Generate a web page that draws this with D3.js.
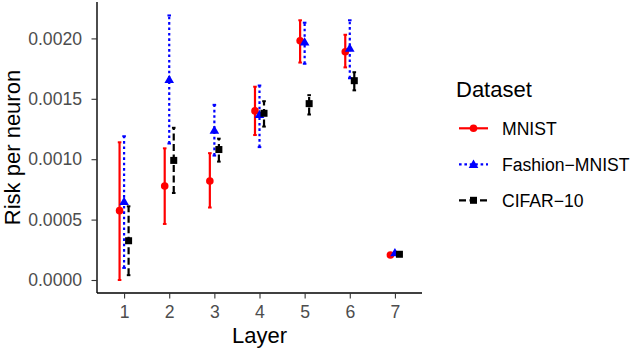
<!DOCTYPE html>
<html>
<head>
<meta charset="utf-8">
<script src="https://cdn.jsdelivr.net/npm/d3@7"></script>
<style>
  body { margin: 0; background: #fff; }
  svg text { font-family: "Liberation Sans", Arial, sans-serif; }
</style>
</head>
<body>
<div id="chart"></div>
<script>
// layers on the x axis
var layers    = [1, 2, 3, 4, 5, 6, 7];
var datasets  = ["MNIST", "Fashion\u2212MNIST", "CIFAR\u221210"];

// mean risk per neuron, one array per dataset
var mnistMean   = [0.000574, 0.000778, 0.00082, 0.00140, 0.00198, 0.00189, 0.000207];
var fashionMean = [0.00065, 0.00166, 0.00124, 0.00137, 0.00197, 0.00192, 0.000226];
var cifarMean   = [0.000325, 0.00099, 0.00108, 0.00138, 0.00146, 0.00165, 0.000213];

// error bar ends
var mnistLow    = [0.0000, 0.000464, 0.00060, 0.00120, 0.00180, 0.00176, 0.000200];
var mnistHigh   = [0.00114, 0.00109, 0.00105, 0.00160, 0.00215, 0.00203, 0.000214];
var fashionLow  = [0.00010, 0.00113, 0.00103, 0.00110, 0.00179, 0.00167, 0.000220];
var fashionHigh = [0.00119, 0.00219, 0.00145, 0.00161, 0.00213, 0.00215, 0.000232];
var cifarLow    = [0.00004, 0.00072, 0.00098, 0.00127, 0.00137, 0.00157, 0.000207];
var cifarHigh   = [0.00061, 0.00126, 0.00117, 0.00148, 0.00153, 0.00172, 0.000219];

var yTicks = [0, 0.0005, 0.0010, 0.0015, 0.0020];

var series = [
  { name: datasets[0], mean: mnistMean,   lo: mnistLow,   hi: mnistHigh,   color: "#ff0000", dash: null,      shape: "circle",   off: -0.1 },
  { name: datasets[1], mean: fashionMean, lo: fashionLow, hi: fashionHigh, color: "#0000ff", dash: "2.6,2.8", shape: "triangle", off: 0 },
  { name: datasets[2], mean: cifarMean,   lo: cifarLow,   hi: cifarHigh,   color: "#000000", dash: "7,3.5",   shape: "square",   off: 0.1 }
];

var width  = 636,
    height = 350;

var svg = d3.select("#chart")
            .append("svg")
            .attr("width", width)
            .attr("height", height);

var x = d3.scaleLinear().domain([0.4, 7.6]).range([97, 422]);
var y = d3.scaleLinear().domain([-0.0001076, 0.0023013]).range([293, 2]);

// axes
var xAxis = svg.append("g")
               .attr("transform", "translate(0,293)")
               .call(d3.axisBottom(x).tickValues(layers).tickSize(5.5).tickPadding(7).tickFormat(d3.format("d")));

var yAxis = svg.append("g")
               .attr("transform", "translate(97,0)")
               .call(d3.axisLeft(y).tickValues(yTicks).tickSize(5.5).tickPadding(9.5).tickFormat(d3.format(".4f")));

[xAxis, yAxis].forEach(function (ax) {
  ax.select(".domain").attr("stroke", "#000").attr("stroke-width", 1.4);
  ax.selectAll(".tick line").attr("stroke", "#333").attr("stroke-width", 1.1);
  ax.selectAll(".tick text").attr("fill", "#4d4d4d").style("font-size", "17.6px");
});
xAxis.select(".domain").attr("d", "M97,0H422");
yAxis.select(".domain").attr("d", "M0,2V293");

svg.append("text")
   .attr("x", 259.5)
   .attr("y", 343)
   .attr("text-anchor", "middle")
   .style("font-size", "22px")
   .text("Layer");

svg.append("text")
   .attr("transform", "translate(20,147.5) rotate(-90)")
   .attr("text-anchor", "middle")
   .style("font-size", "22px")
   .text("Risk per neuron");

function drawShape(g, shape, cx, cy, color) {
  if (shape === "circle") {
    g.append("circle").attr("cx", cx).attr("cy", cy).attr("r", 3.8).attr("fill", color);
  } else if (shape === "triangle") {
    var s = 4.8;
    g.append("path")
     .attr("d", "M" + cx + "," + (cy - s) + "L" + (cx + s) + "," + (cy + s * 0.75) + "L" + (cx - s) + "," + (cy + s * 0.75) + "Z")
     .attr("fill", color);
  } else {
    g.append("rect").attr("x", cx - 3.5).attr("y", cy - 3.5).attr("width", 7).attr("height", 7).attr("fill", color);
  }
}

// error bars and points
series.forEach(function (s) {
  var g = svg.append("g");
  layers.forEach(function (l, i) {
    var cx = x(l + s.off);
    g.append("line")
     .attr("x1", cx).attr("x2", cx)
     .attr("y1", y(s.lo[i])).attr("y2", y(s.hi[i]))
     .attr("stroke", s.color)
     .attr("stroke-width", 2.2)
     .attr("stroke-dasharray", s.dash);
    [s.lo[i], s.hi[i]].forEach(function (v) {
      g.append("line")
       .attr("x1", cx - 1.8).attr("x2", cx + 1.8)
       .attr("y1", y(v)).attr("y2", y(v))
       .attr("stroke", s.color)
       .attr("stroke-width", 2);
    });
  });
});

series.forEach(function (s) {
  var g = svg.append("g");
  layers.forEach(function (l, i) {
    drawShape(g, s.shape, x(l + s.off), y(s.mean[i]), s.color);
  });
});

// legend
var legend = svg.append("g");
legend.append("text")
      .attr("x", 456)
      .attr("y", 97)
      .style("font-size", "22px")
      .text("Dataset");

series.forEach(function (s, i) {
  var ly = 128.3 + i * 36;
  legend.append("line")
        .attr("x1", 459).attr("x2", 488)
        .attr("y1", ly).attr("y2", ly)
        .attr("stroke", s.color)
        .attr("stroke-width", 2.2)
        .attr("stroke-dasharray", s.dash);
  drawShape(legend, s.shape, 473.5, ly, s.color);
  legend.append("text")
        .attr("x", 502)
        .attr("y", ly + 6.5)
        .style("font-size", "17.6px")
        .text(s.name);
});
</script>
</body>
</html>
